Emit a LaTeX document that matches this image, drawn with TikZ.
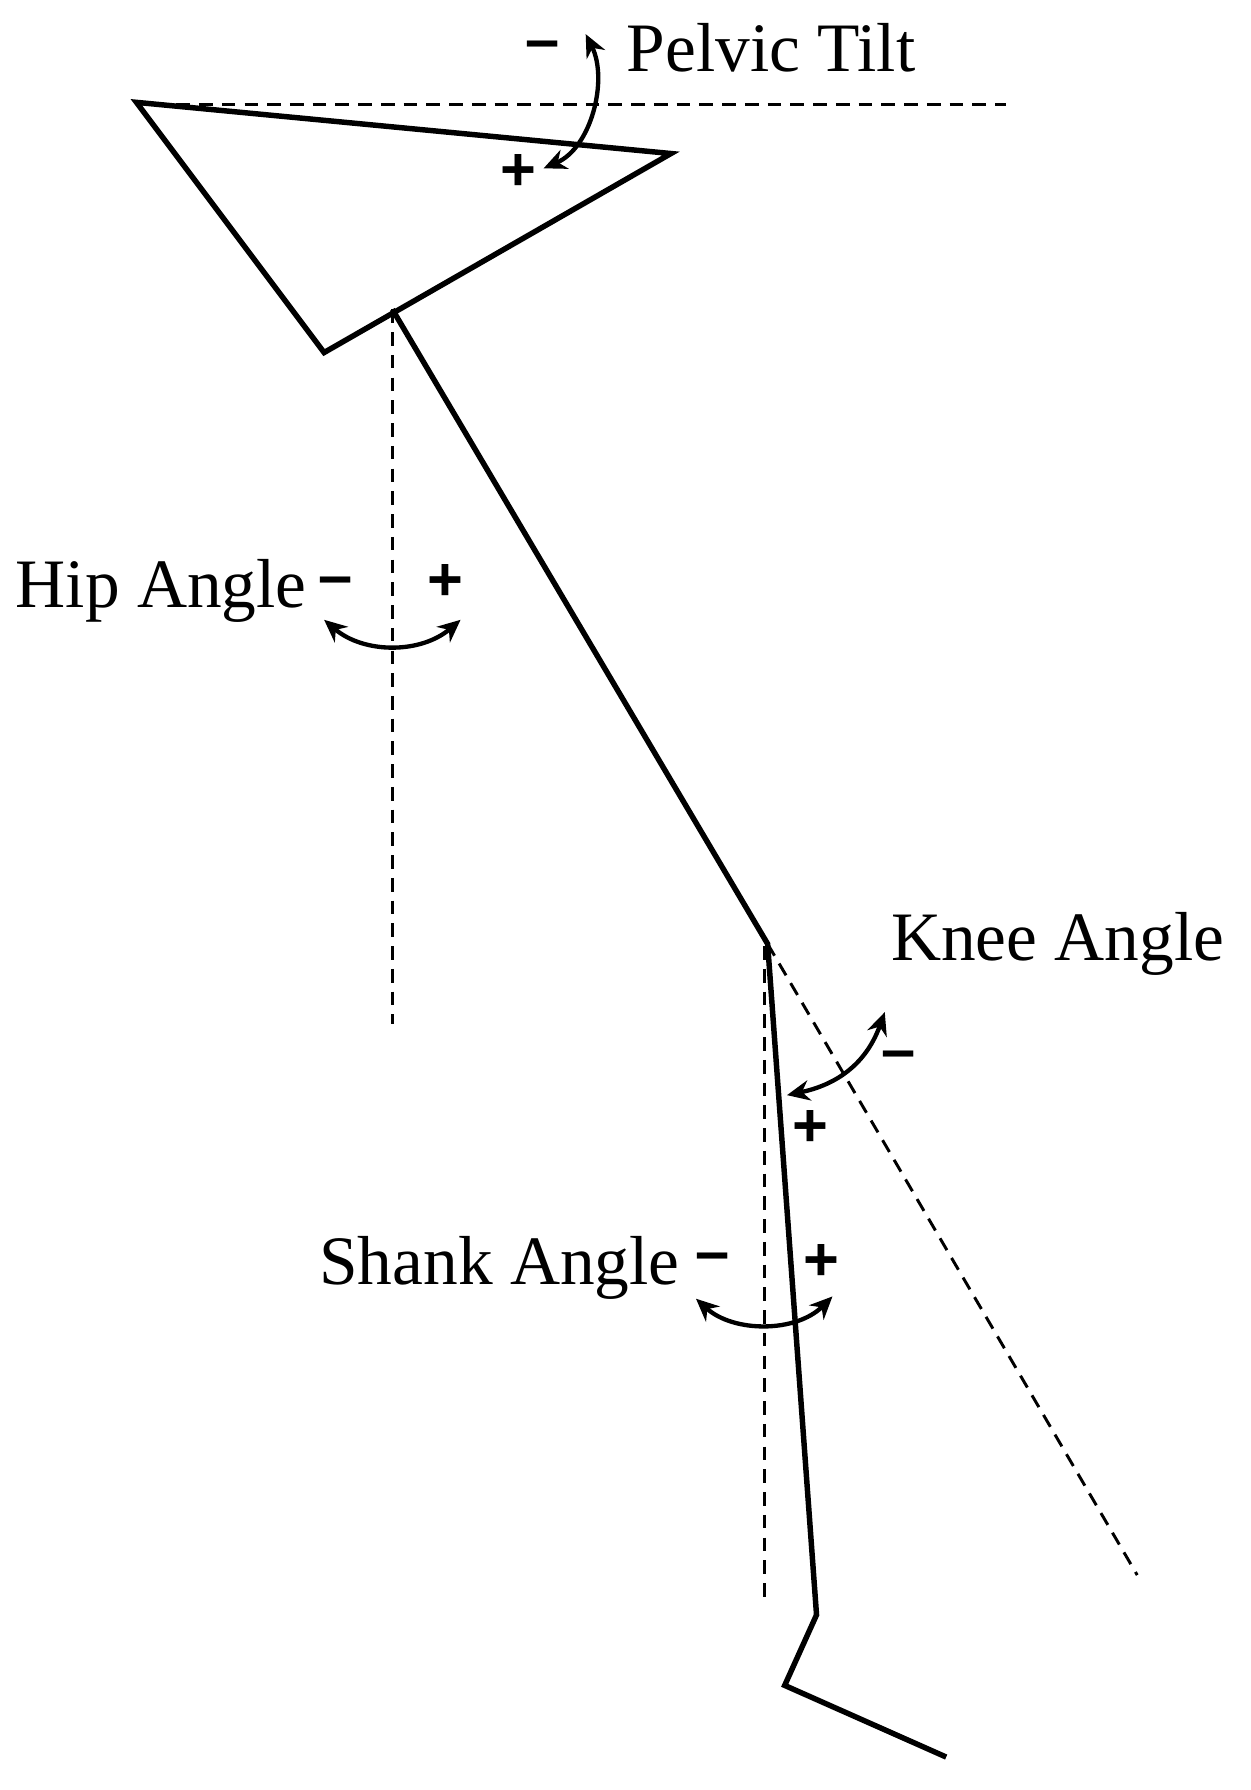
\documentclass[tikz,border=0pt]{standalone}
\usepackage{fontspec}
\setmainfont{Liberation Serif}
\newfontfamily\sgnfont{Liberation Sans}
\usetikzlibrary{arrows.meta}
\begin{document}
\begin{tikzpicture}[x=0.5pt,y=-0.5pt,
  seg/.style={line width=2.4pt,line join=miter},
  dsh/.style={line width=1.3pt,dash pattern=on 6pt off 4pt},
  arc/.style={line width=1.9pt,{Stealth[length=10pt,width=9pt]}-{Stealth[length=10pt,width=9pt]}},
  lbl/.style={font=\fontsize{30.5}{33}\selectfont,inner sep=0pt},
  sgn/.style={font=\sgnfont\fontsize{27}{29}\selectfont\bfseries,inner sep=0pt}]
\useasboundingbox (0,0) rectangle (1100,1574);
\coordinate (tl) at (120,90);
\coordinate (tr) at (590,135);
\coordinate (tb) at (285,310);
\coordinate (hip) at (345,272);
\coordinate (knee) at (675,830);
\coordinate (ankle) at (718,1420);
\coordinate (heel) at (690,1482);
\coordinate (toe) at (832,1545);
\coordinate (h1) at (155,92); \coordinate (h2) at (885,92);
\coordinate (hv) at (345,900);
\coordinate (kv0) at (672,832); \coordinate (kv) at (672,1410);
\coordinate (ke) at (1000,1385);
\draw[dsh] (h1) -- (h2);
\draw[dsh] (hip) -- (hv);
\draw[dsh] (kv0) -- (kv);
\draw[dsh] (knee) -- (ke);
\draw[seg] (tl) -- (tr) -- (tb) -- cycle;
\draw[seg] (hip) -- (knee) -- (ankle) -- (heel) -- (toe);
\draw[arc] (515,30) .. controls (535,70) and (520,130) .. (478,148);
\draw[arc] (285,545) .. controls (320,575) and (370,575) .. (405,545);
\draw[arc] (612,1142) .. controls (645,1172) and (700,1172) .. (732,1140);
\draw[arc] (778,890) .. controls (760,940) and (730,955) .. (692,963);
\node[lbl] (pt) at (678,42) {Pelvic Tilt};
\node[sgn] (pm) at (477,45) {–};
\node[sgn] (pp) at (456,152) {+};
\node[lbl,anchor=east] (ha) at (270,520) {Hip Angle};
\node[sgn] (hm) at (295,516) {–};
\node[sgn] (hp) at (392,512) {+};
\node[lbl] (ka) at (930,830) {Knee Angle};
\node[sgn] (km) at (790,933) {–};
\node[sgn] (kp) at (713,992) {+};
\node[lbl,anchor=east] (sa) at (598,1115) {Shank Angle};
\node[sgn] (sm) at (627,1110) {–};
\node[sgn] (sp) at (722,1110) {+};
\end{tikzpicture}
\end{document}
